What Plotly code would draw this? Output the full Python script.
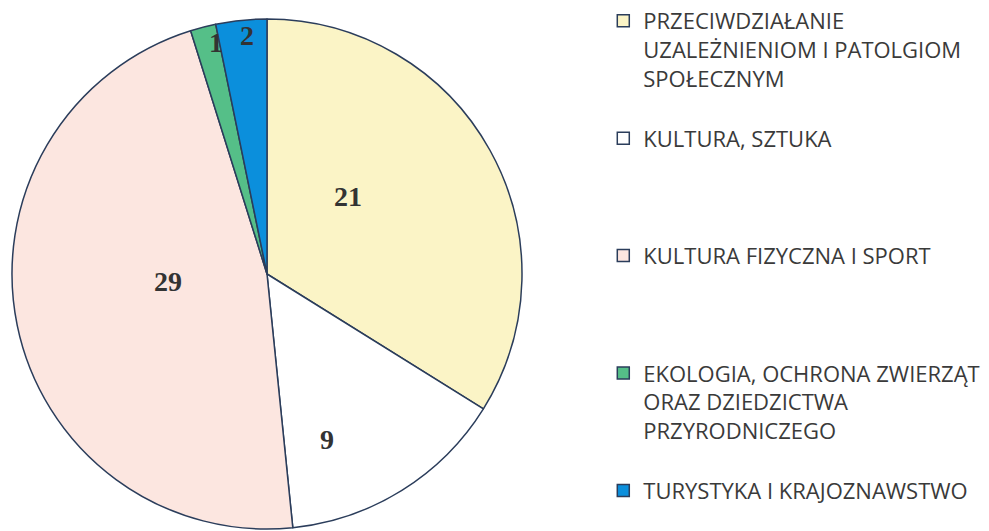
import math
import plotly.graph_objects as go

# ---- data ----
categories = [
    "PRZECIWDZIAŁANIE<br>UZALEŻNIENIOM I PATOLGIOM<br>SPOŁECZNYM",
    "KULTURA, SZTUKA",
    "KULTURA FIZYCZNA I SPORT",
    "EKOLOGIA, OCHRONA ZWIERZĄT<br>ORAZ DZIEDZICTWA<br>PRZYRODNICZEGO",
    "TURYSTYKA I KRAJOZNAWSTWO",
]
values = [21, 9, 29, 1, 2]

# ---- style ----
colors = ["#fbf4c6", "#ffffff", "#fce6e0", "#55bf88", "#0b8fdc"]
legend_pad = [1, 3, 3, 1, 0]          # blank lines after each legend entry
label_r = [0.44, 0.69, 0.39, 0.93, 0.94]   # radial fraction of value labels
label_dang = [-15, 12, 7, 2, 1]            # angle tweak of value labels (deg)

W, H = 989, 531
cx, cy, R = 267, 274, 255

legend_text = [c + "<br>\u00a0" * p for c, p in zip(categories, legend_pad)]

fig = go.Figure(go.Pie(
    labels=legend_text,
    values=values,
    sort=False,
    direction="clockwise",
    rotation=0,
    marker=dict(colors=colors, line=dict(color="#2b3d5b", width=1.5)),
    textinfo="none",
    hoverinfo="label+value",
    domain=dict(x=[(cx - R) / W, (cx + R) / W],
                y=[(H - cy - R) / H, (H - cy + R) / H]),
))

# value labels computed from cumulative angles
total = sum(values)
start = 0.0
for v, rf, da in zip(values, label_r, label_dang):
    span = v / total * 360
    ang = math.radians(start + span / 2 + da)
    px = cx + rf * R * math.sin(ang)
    py = cy - rf * R * math.cos(ang)
    fig.add_annotation(
        x=px / W, y=1 - py / H, xref="paper", yref="paper",
        xanchor="center", yanchor="middle",
        text=f"<b>{v}</b>", showarrow=False,
        font=dict(family="Liberation Serif", size=28, color="#333333"),
    )
    start += span

fig.update_layout(
    width=W, height=H,
    margin=dict(l=0, r=0, t=0, b=0),
    paper_bgcolor="white",
    plot_bgcolor="white",
    showlegend=True,
    legend=dict(
        x=0.61, y=1.0, xanchor="left", yanchor="top",
        valign="top",
        font=dict(family="Open Sans", size=22, color="#3a3a3a"),
        itemclick=False, itemdoubleclick=False,
        tracegroupgap=0,
    ),
)

fig.write_html("out.html",
               config={"displayModeBar": False},
               post_script="document.body.style.margin='0';document.body.style.overflow='hidden';")
